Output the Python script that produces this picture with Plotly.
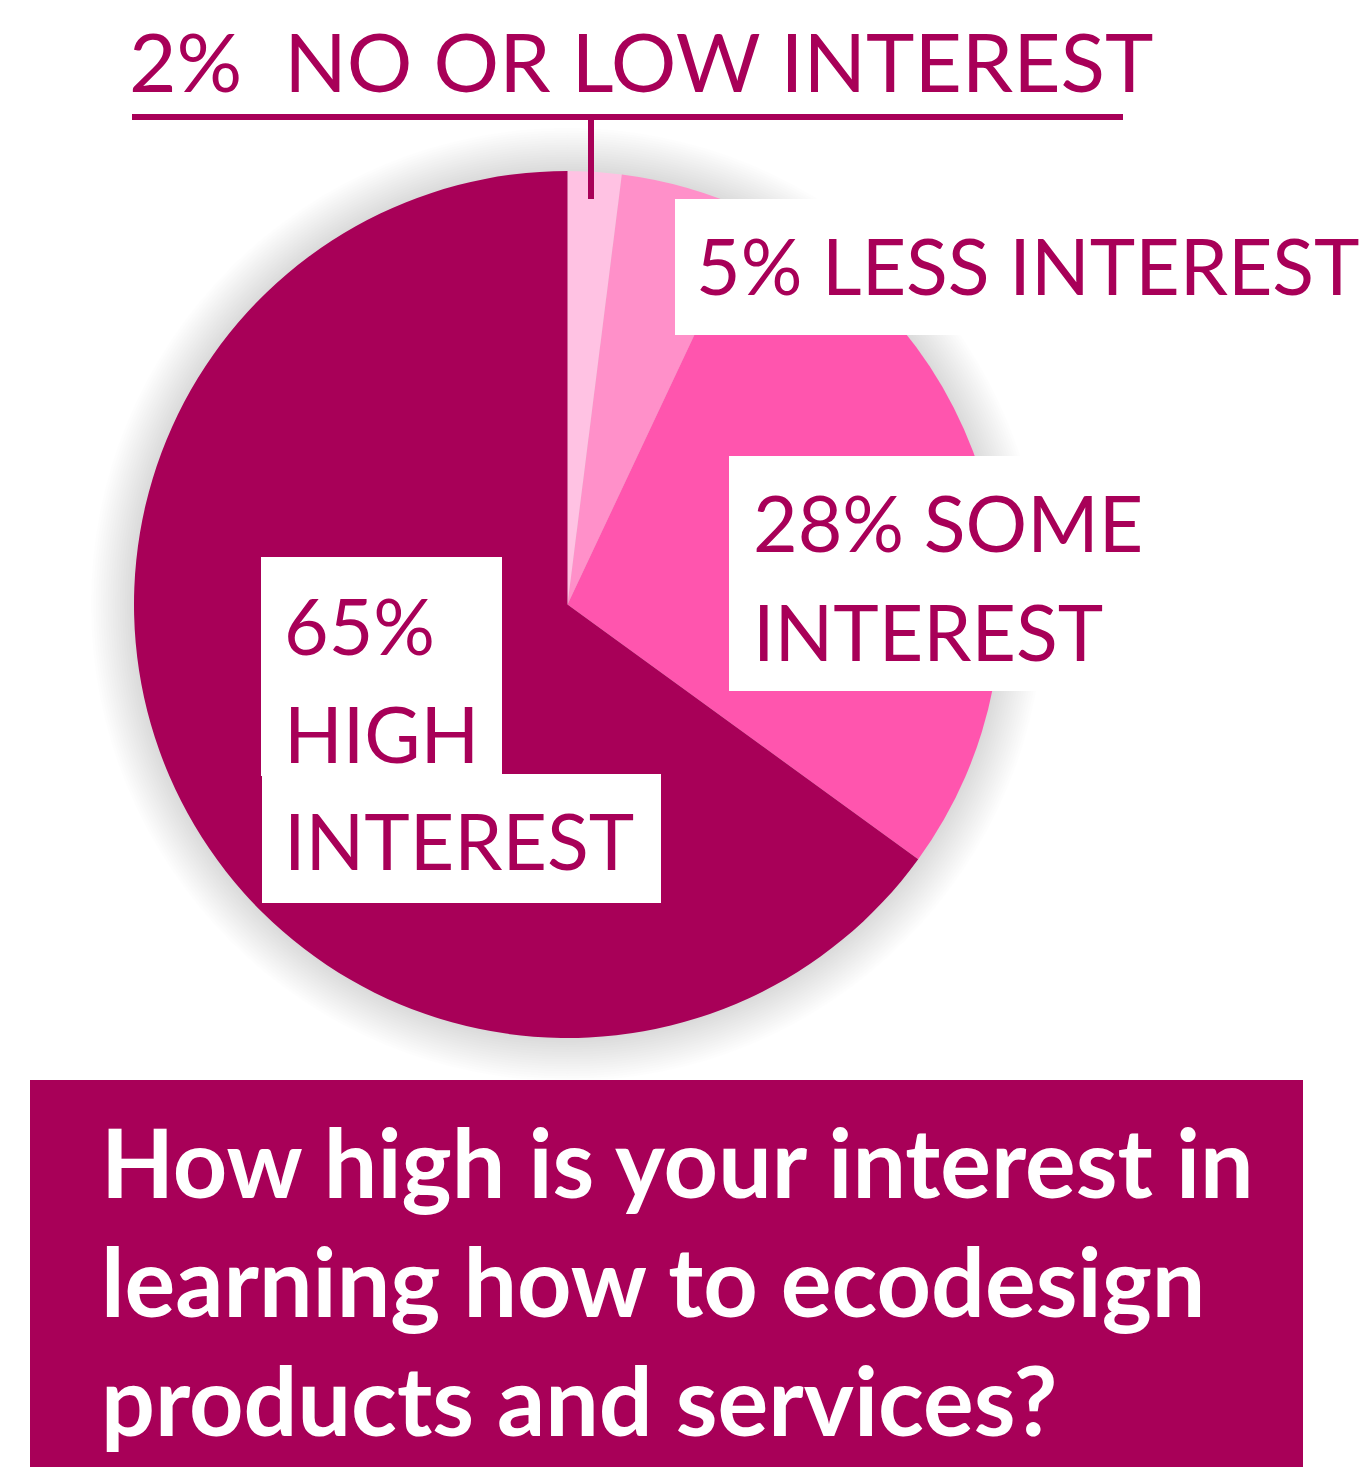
import plotly.graph_objects as go

# Survey answers, clockwise from 12 o'clock
categories = ["NO OR LOW INTEREST", "LESS INTEREST", "SOME INTEREST", "HIGH INTEREST"]
shares = [2, 5, 28, 65]
slice_colors = ["#FFC2E3", "#FF90C9", "#FF55AE", "#A80058"]
question_lines = [
    "How high is your interest in",
    "learning how to ecodesign",
    "products and services?",
]

W, H = 1366, 1467
DARK = "#A80058"
FONT = "Lato"


def px(x):
    return x / W


def py(y):
    return 1 - y / H


# pie geometry in page pixels
cx, cy, r = 567.5, 604.5, 433.5

fig = go.Figure(
    go.Pie(
        labels=categories,
        values=shares,
        sort=False,
        direction="clockwise",
        rotation=0,
        marker=dict(colors=slice_colors, line=dict(width=0)),
        textinfo="none",
        hoverinfo="label+percent",
        showlegend=False,
        domain=dict(x=[px(cx - r), px(cx + r)], y=[py(cy + r), py(cy - r)]),
    )
)

shapes = []
# soft glow around the pie
for k in range(18, 0, -1):
    rr = r + k * 2.4
    shapes.append(dict(
        type="circle", xref="paper", yref="paper", layer="below",
        x0=px(cx - rr), x1=px(cx + rr), y0=py(cy + rr), y1=py(cy - rr),
        fillcolor="rgba(0,0,0,0.009)", line=dict(width=0),
    ))


def rect(x0, y0, x1, y1, color, layer="above"):
    shapes.append(dict(
        type="rect", xref="paper", yref="paper", layer=layer,
        x0=px(x0), x1=px(x1), y0=py(y1), y1=py(y0),
        fillcolor=color, line=dict(width=0),
    ))


# white label panels
rect(675, 199, 1366, 335, "white")
rect(729, 456, 1170, 691, "white")
rect(261, 557, 502, 776, "white")
rect(262, 774, 661, 903, "white")
# leader for the smallest slice
rect(132, 114, 1123, 120, DARK)
rect(588, 114, 594, 199, DARK)
# question panel
rect(30, 1080, 1303, 1467, DARK)

annotations = []


def label(text, x, baseline, size, color=DARK, bold=False):
    # place text by its baseline (cap-middle anchor)
    annotations.append(dict(
        text=f"<b>{text}</b>" if bold else text,
        xref="paper", yref="paper", showarrow=False,
        x=px(x), y=py(baseline - 0.36 * size),
        xanchor="left", yanchor="middle",
        font=dict(family=FONT, size=size, color=color),
    ))


LS = 77
label(f"{shares[0]}%&nbsp;&nbsp;{categories[0]}", 127, 90, 82)
label(f"{shares[1]}% {categories[1]}", 694, 293, LS)
label(f"{shares[2]}% SOME", 751, 550, LS)
label("INTEREST", 751, 659, LS)
label(f"{shares[3]}%", 282, 653, LS)
label("HIGH", 282, 761, LS)
label("INTEREST", 282, 868, LS)

for i, line in enumerate(question_lines):
    label(line, 99, 1195 + i * 119, 95, color="white", bold=True)

fig.update_layout(
    width=W, height=H,
    margin=dict(l=0, r=0, t=0, b=0),
    paper_bgcolor="white", plot_bgcolor="white",
    shapes=shapes, annotations=annotations,
)

fig.write_html("out.html")
